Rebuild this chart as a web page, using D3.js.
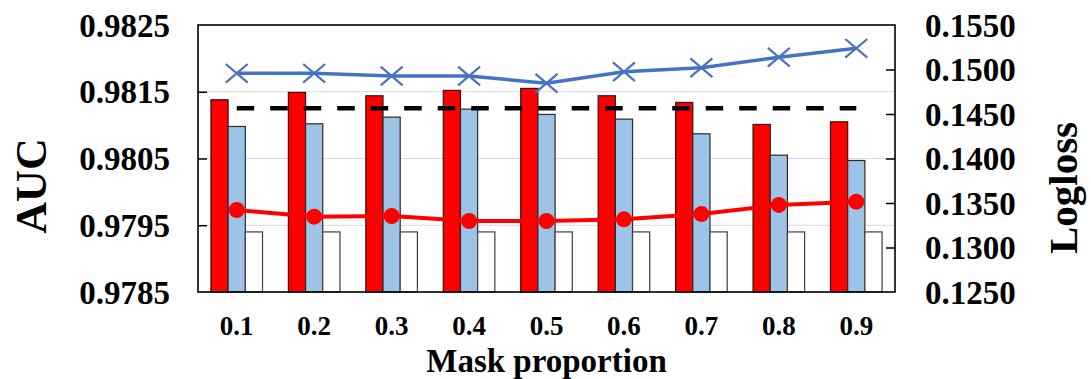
<!DOCTYPE html>
<html>
<head>
<meta charset="utf-8">
<script src="https://cdn.jsdelivr.net/npm/d3@7"></script>
<style>
  html, body { margin: 0; padding: 0; background: #fff; }
  svg { display: block; }
  text { font-family: "Liberation Serif", "Times New Roman", serif; font-weight: bold; fill: #000; }
</style>
</head>
<body>
<svg id="chart" width="1091" height="379"></svg>
<script>
// ---- data ----
const categories = ["0.1", "0.2", "0.3", "0.4", "0.5", "0.6", "0.7", "0.8", "0.9"];
const aucRed   = [0.98138, 0.98149, 0.98144, 0.98152, 0.98155, 0.98144, 0.98134, 0.98101, 0.98105];
const aucBlue  = [0.98098, 0.98102, 0.98112, 0.98124, 0.98116, 0.98109, 0.98087, 0.98055, 0.98047];
const aucBase  = [0.97940, 0.97940, 0.97940, 0.97940, 0.97940, 0.97940, 0.97940, 0.97940, 0.97940];
const loglossBlue = [0.14957, 0.14957, 0.14927, 0.14927, 0.14845, 0.14975, 0.15020, 0.15137, 0.15238];
const loglossRed  = [0.13421, 0.13346, 0.13354, 0.13298, 0.13298, 0.13317, 0.13376, 0.13478, 0.13515];
const loglossBase = [0.14564, 0.14564, 0.14564, 0.14564, 0.14564, 0.14564, 0.14564, 0.14564, 0.14564];
const aucTicks = [0.9785, 0.9795, 0.9805, 0.9815, 0.9825];
const loglossTicks = [0.1250, 0.1300, 0.1350, 0.1400, 0.1450, 0.1500, 0.1550];
const xTitle = "Mask proportion";
const yLeftTitle = "AUC";
const yRightTitle = "Logloss";

// ---- layout ----
const svg = d3.select("#chart");
const L = 198, R = 895, T = 25, B = 292;

const x = d3.scaleBand().domain(categories).range([L, R]).paddingInner(0).paddingOuter(0);
const yL = d3.scaleLinear().domain([0.9785, 0.9825]).range([B, T]);
const yR = d3.scaleLinear().domain([0.1250, 0.1550]).range([B, T]);

const bw = x.bandwidth() * 0.222;
const cx = c => x(c) + x.bandwidth() / 2;

// gridlines
svg.append("g").selectAll("line")
  .data(aucTicks.slice(1, -1))
  .join("line")
  .attr("x1", L).attr("x2", R)
  .attr("y1", d => yL(d)).attr("y2", d => yL(d))
  .attr("stroke", "#d9d9d9").attr("stroke-width", 1);

// bars
const series = [
  { vals: aucRed,  fill: "#ff0000", stroke: "#3a1010", off: -1.5 },
  { vals: aucBlue, fill: "#9dc3e6", stroke: "#2b2b2b", off: -0.5 },
  { vals: aucBase, fill: "#ffffff", stroke: "#404040", off: 0.5 }
];
series.forEach(s => {
  svg.append("g").selectAll("rect")
    .data(categories.map((c, i) => ({ c, v: s.vals[i] })))
    .join("rect")
    .attr("x", d => cx(d.c) + s.off * bw)
    .attr("width", bw)
    .attr("y", d => yL(d.v))
    .attr("height", d => B - yL(d.v))
    .attr("fill", s.fill)
    .attr("stroke", s.stroke)
    .attr("stroke-width", 1.2);
});

// dashed baseline logloss
const line = d3.line().x(d => cx(d.c)).y(d => yR(d.v));
svg.append("path")
  .datum(categories.map((c, i) => ({ c, v: loglossBase[i] })))
  .attr("d", line)
  .attr("fill", "none").attr("stroke", "#000").attr("stroke-width", 4.5)
  .attr("stroke-dasharray", "17.5,16");

// blue line with X markers
const blueData = categories.map((c, i) => ({ c, v: loglossBlue[i] }));
svg.append("path").datum(blueData).attr("d", line)
  .attr("fill", "none").attr("stroke", "#4472c4").attr("stroke-width", 3.5);
const xs = 11;
svg.append("g").selectAll("path")
  .data(blueData).join("path")
  .attr("d", d => {
    const px = cx(d.c), py = yR(d.v);
    return `M${px - xs},${py - xs * 0.85}L${px + xs},${py + xs * 0.85}M${px - xs},${py + xs * 0.85}L${px + xs},${py - xs * 0.85}`;
  })
  .attr("stroke", "#4a72c0").attr("stroke-width", 2.2).attr("fill", "none");

// red line with circles
const redData = categories.map((c, i) => ({ c, v: loglossRed[i] }));
svg.append("path").datum(redData).attr("d", line)
  .attr("fill", "none").attr("stroke", "#ff0000").attr("stroke-width", 4);
svg.append("g").selectAll("circle")
  .data(redData).join("circle")
  .attr("cx", d => cx(d.c)).attr("cy", d => yR(d.v)).attr("r", 8)
  .attr("fill", "#ff0000");

// frame
svg.append("rect").attr("x", L).attr("y", T).attr("width", R - L).attr("height", B - T)
  .attr("fill", "none").attr("stroke", "#000").attr("stroke-width", 1.6);

// axes (ticks inside)
const axL = d3.axisLeft(yL).tickValues(aucTicks).tickSize(-9).tickFormat(d3.format(".4f")).tickPadding(28);
const gL = svg.append("g").attr("transform", `translate(${L},0)`).call(axL);
const axR = d3.axisRight(yR).tickValues(loglossTicks).tickSize(-9).tickFormat(d3.format(".4f")).tickPadding(30);
const gR = svg.append("g").attr("transform", `translate(${R},0)`).call(axR);
[gL, gR].forEach(g => {
  g.select(".domain").remove();
  g.selectAll(".tick line").attr("stroke", "#000").attr("stroke-width", 1.5);
  g.selectAll(".tick text").attr("font-size", 33).attr("dy", "0.34em")
    .style("font-family", "'Liberation Serif', 'Times New Roman', serif").style("font-weight", "bold");
});
gL.selectAll(".tick line").filter(d => d === 0.9785 || d === 0.9825).remove();
gR.selectAll(".tick line").filter(d => d === 0.1250 || d === 0.1550).remove();

const axB = d3.axisBottom(x).tickSize(0).tickPadding(0);
const gB = svg.append("g").attr("transform", `translate(0,${B})`).call(axB);
gB.select(".domain").remove();
gB.selectAll(".tick text").attr("font-size", 27).attr("y", 43).attr("dy", 0)
  .style("font-family", "'Liberation Serif', 'Times New Roman', serif").style("font-weight", "bold");

// titles
svg.append("text").attr("x", (L + R) / 2).attr("y", 372).attr("text-anchor", "middle")
  .attr("font-size", 33).text(xTitle);
svg.append("text").attr("transform", "translate(46,186) rotate(-90)").attr("text-anchor", "middle")
  .attr("font-size", 44).text(yLeftTitle);
svg.append("text").attr("transform", "translate(1077,188) rotate(-90)").attr("text-anchor", "middle")
  .attr("font-size", 41).text(yRightTitle);
</script>
</body>
</html>
